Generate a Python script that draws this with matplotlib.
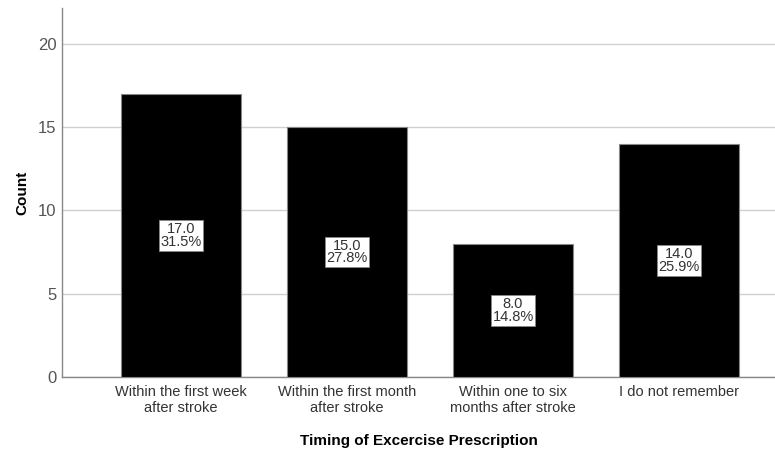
import matplotlib.pyplot as plt
import numpy as np

plt.rcParams['font.family'] = ['Liberation Sans', 'DejaVu Sans']

categories = ["Within the first week\nafter stroke", "Within the first month\nafter stroke",
              "Within one to six\nmonths after stroke", "I do not remember"]
counts = [17, 15, 8, 14]
percents = [31.5, 27.8, 14.8, 25.9]

fig = plt.figure(figsize=(7.75, 4.49), dpi=100)
ax = fig.add_axes([0.08, 0.1604, 0.92, 0.822])

x = np.arange(len(categories))
ax.bar(x, counts, width=0.72, color='black', edgecolor='#888888', linewidth=0.8, zorder=3)

for xi, c, p in zip(x, counts, percents):
    ax.text(xi, c / 2, "%.1f\n%.1f%%" % (c, p), ha='center', va='center', fontsize=10.5,
            color='#333333', linespacing=0.9, zorder=4,
            bbox=dict(boxstyle='square,pad=0.12', fc='white', ec='#888888', lw=0.6))

ax.set_xlim(-0.717, 3.578)
ax.set_ylim(0, 22.15)
ax.set_yticks([0, 5, 10, 15, 20])
ax.yaxis.grid(True, color='#d0d0d0', linewidth=1, zorder=0)
ax.set_axisbelow(True)
ax.set_xticks(x)
ax.set_xticklabels(categories, fontsize=10.5, color='#333333', linespacing=1.15)
ax.tick_params(axis='y', labelsize=12, colors='#555555', length=0, pad=4)
ax.tick_params(axis='x', length=0, pad=6)

for s in ['top', 'right']:
    ax.spines[s].set_visible(False)
for s in ['left', 'bottom']:
    ax.spines[s].set_color('#888888')
    ax.spines[s].set_linewidth(1)

ax.set_ylabel("Count", fontsize=11, fontweight='bold', labelpad=6)
ax.set_xlabel("Timing of Excercise Prescription", fontsize=11, fontweight='bold', labelpad=14)

fig.savefig("out.png", dpi=100)
